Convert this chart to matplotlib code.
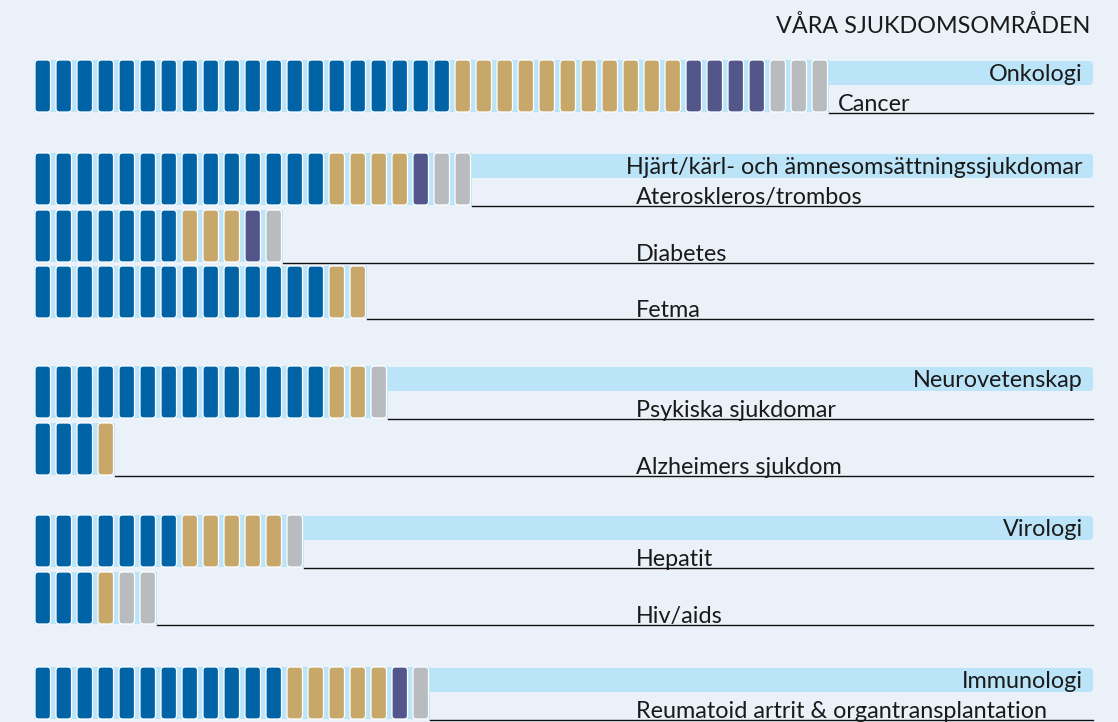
import matplotlib.pyplot as plt
from matplotlib.patches import FancyBboxPatch, Rectangle

# pills per row: blue, tan, purple, gray
groups = ["Onkologi", "Hjärt/kärl- och ämnesomsättningssjukdomar",
          "Neurovetenskap", "Virologi", "Immunologi"]
rows = ["Cancer", "Ateroskleros/trombos", "Diabetes", "Fetma",
        "Psykiska sjukdomar", "Alzheimers sjukdom", "Hepatit", "Hiv/aids",
        "Reumatoid artrit & organtransplantation"]
row_group = [0, 1, 1, 1, 2, 2, 3, 3, 4]
blue   = [20, 14, 7, 14, 14, 3, 7, 3, 12]
tan    = [11, 4, 3, 2, 2, 1, 5, 1, 5]
purple = [4, 1, 1, 0, 0, 0, 0, 0, 1]
gray   = [3, 2, 1, 0, 1, 0, 1, 2, 1]
title = "VÅRA SJUKDOMSOMRÅDEN"

colors = ["#0063a6", "#c8a76a", "#52568b", "#b9bcbf"]
lightblue = "#bce4f8"
bg = "#eaf1f8"

W, H = 1118, 722
row_top = [60, 153, 210, 266, 366, 423, 515, 572, 667]
x0, pitch, pw, ph = 35, 21, 15.5, 52
right = 1093
font = ["Lato", "DejaVu Sans"]
fs = 16.8

fig = plt.figure(figsize=(W / 100, H / 100), dpi=100, facecolor=bg)
ax = fig.add_axes([0, 0, 1, 1])
ax.set_xlim(0, W)
ax.set_ylim(H, 0)
ax.axis("off")
ax.set_facecolor(bg)

ax.text(1090, 33, title, ha="right", va="baseline", fontsize=fs,
        family=font, color="#1a1a1a")

seen = set()
for r, name in enumerate(rows):
    top = row_top[r]
    counts = [blue[r], tan[r], purple[r], gray[r]]
    n = sum(counts)
    end = x0 + (n - 1) * pitch + pw
    g = row_group[r]
    # light blue strip behind pills
    ax.add_patch(Rectangle((x0 - 1, top), end - x0 + 2, ph,
                           facecolor=lightblue, edgecolor="none", zorder=1))
    if g not in seen:
        seen.add(g)
        ax.add_patch(FancyBboxPatch((x0, top + 1), right - x0, 24,
                                    boxstyle="round,pad=0,rounding_size=4",
                                    facecolor=lightblue, edgecolor="none", zorder=1))
        ax.text(right - 10, top + 21, groups[g], ha="right", va="baseline",
                fontsize=fs, family=font, color="#1a1a1a", zorder=4)
    i = 0
    for c, k in zip(colors, counts):
        for _ in range(k):
            ax.add_patch(FancyBboxPatch((x0 + i * pitch, top), pw, ph,
                                        boxstyle="round,pad=0,rounding_size=3.5",
                                        facecolor=c, edgecolor="white",
                                        linewidth=0.9, zorder=3))
            i += 1
    ax.plot([end + 1, right], [top + ph + 0.5, top + ph + 0.5],
            color="#111111", lw=1.0, zorder=2)
    lx = max(636, end + 10)
    ax.text(lx, top + ph - 1, name, ha="left", va="baseline", fontsize=fs,
            family=font, color="#1a1a1a", zorder=4)

fig.savefig("out.png", dpi=100, facecolor=bg)
